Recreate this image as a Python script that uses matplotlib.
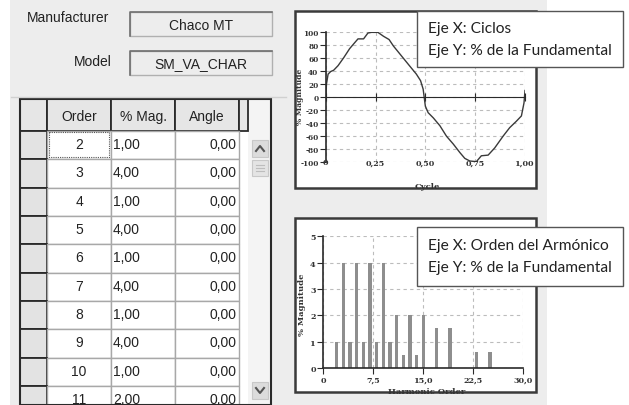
import matplotlib.pyplot as plt
from matplotlib.patches import Rectangle

# table data (harmonic settings)
orders = [2, 3, 4, 5, 6, 7, 8, 9, 10, 11]
mags = [1.0, 4.0, 1.0, 4.0, 1.0, 4.0, 1.0, 4.0, 1.0, 2.0]
angles = [0.0] * 10
headers = ["Order", "% Mag.", "Angle"]

# spectrum
h_order = [2, 3, 4, 5, 6, 7, 8, 9, 10, 11, 12, 13, 14, 15, 17, 19, 23, 25]
h_mag = [1, 4, 1, 4, 1, 4, 1, 4, 1, 2, 0.5, 2, 0.5, 2, 1.5, 1.5, 0.6, 0.6]

# waveform
cycle_t = [0, 0.004, 0.012, 0.025, 0.04, 0.062, 0.09, 0.12, 0.145, 0.162, 0.19,
           0.212, 0.23, 0.262, 0.29, 0.318, 0.34, 0.38, 0.42, 0.455, 0.476, 0.489,
           0.494, 0.5, 0.514, 0.54, 0.573, 0.606, 0.64, 0.673, 0.698, 0.723, 0.756,
           0.781, 0.815, 0.848, 0.89, 0.923, 0.957, 0.982, 0.995, 1.0]
wave_pct = [0, 20, 35, 39, 41, 48, 60, 74, 83, 89, 89,
            98, 99, 99, 93, 88, 78, 63, 48, 35, 25, 12,
            0, -14, -24, -32, -44, -60, -72, -85, -94, -98, -99,
            -90, -89, -78, -60, -47, -37, -29, -9, 10]

wave_xticks = [0, 0.25, 0.5, 0.75, 1.0]
wave_xlabels = ["0", "0,25", "0,50", "0,75", "1,00"]
wave_yticks = list(range(-100, 101, 20))
spec_xticks = [0, 7.5, 15, 22.5, 30]
spec_xlabels = ["0", "7,5", "15,0", "22,5", "30,0"]
spec_yticks = [0, 1, 2, 3, 4, 5]

W, H = 629, 406
UI = "#ededed"
DARK = "#2a2a2a"
ui_font = "Liberation Sans"
note_font = "Lato"
FS = 10
tick_font = dict(family="DejaVu Serif", weight="bold", size=5.8, color="#333333")
tick_small = dict(tick_font, size=5.3)


def fig_rect(x0, y0, x1, y1):
    return [x0 / W, 1 - y1 / H, (x1 - x0) / W, (y1 - y0) / H]


fig = plt.figure(figsize=(W / 100, H / 100), dpi=100)
fig.patch.set_facecolor("white")

bg = fig.add_axes([0, 0, 1, 1])
bg.set_xlim(0, W)
bg.set_ylim(H, 0)
bg.axis("off")

# gray dialog background
bg.add_patch(Rectangle((10, 0), 537, 406, facecolor=UI, edgecolor="none"))
bg.plot([11, 286], [98, 98], color="#d0d0d0", lw=1)

# manufacturer / model fields
bg.text(27, 18, "Manufacturer", family=ui_font, size=FS, va="center", color="#222")
bg.text(112, 62, "Model", family=ui_font, size=FS, va="center", ha="right", color="#222")
for y0, txt in [(13, "Chaco MT"), (52, "SM_VA_CHAR")]:
    bg.add_patch(Rectangle((130, y0), 142, 24, facecolor=UI, edgecolor="#b0b0b0", lw=1))
    bg.plot([130, 130, 272], [y0 + 24, y0, y0], color="#707070", lw=1.2)
    bg.text(201, y0 + 12.5, txt, family=ui_font, size=FS, ha="center", va="center", color="#222")

# table
tx = [20, 47, 111, 175, 239, 248]
top, head_h, row_h = 100, 32, 28.33
bg.add_patch(Rectangle((20, top), 251, 306, facecolor="#f4f4f4", edgecolor="none"))
bg.add_patch(Rectangle((47, top + head_h), 201, 306, facecolor="white", edgecolor="none"))
# header
for i in range(5):
    bg.add_patch(Rectangle((tx[i], top), tx[i + 1] - tx[i], head_h,
                           facecolor="#e6e6e6", edgecolor=DARK, lw=1.3))
for i, h in enumerate(headers):
    bg.text((tx[i + 1] + tx[i + 2]) / 2, top + head_h / 2 + 1, h, family=ui_font,
            size=FS, ha="center", va="center", color="#222")
# rows
for r, (o, m, a) in enumerate(zip(orders, mags, angles)):
    y0 = top + head_h + r * row_h
    bg.add_patch(Rectangle((20, y0), 27, row_h, facecolor="#e3e3e3", edgecolor=DARK, lw=1.3))
    for i in range(1, 4):
        bg.add_patch(Rectangle((tx[i], y0), tx[i + 1] - tx[i], row_h,
                               facecolor="white", edgecolor="#a8a8a8", lw=1))
    yc = y0 + row_h / 2 - 1
    bg.text(79, yc, str(o), family=ui_font, size=FS, ha="center", va="center", color="#222")
    bg.text(113, yc, f"{m:.2f}".replace(".", ","), family=ui_font, size=FS,
            ha="left", va="center", color="#222")
    bg.text(236, yc, f"{a:.2f}".replace(".", ","), family=ui_font, size=FS,
            ha="right", va="center", color="#222")
# focus on first cell
bg.add_patch(Rectangle((49, top + head_h + 1), 60, row_h - 3, facecolor="none",
                       edgecolor="#555", lw=0.8, linestyle=(0, (1, 1))))
# outer border
bg.add_patch(Rectangle((20, top), 251, 306, facecolor="none", edgecolor=DARK, lw=1.5))

# scrollbar
for y0 in [141, 383]:
    bg.add_patch(Rectangle((252, y0), 16, 17, facecolor="#dcdcdc", edgecolor="#c8c8c8", lw=0.8))
bg.plot([256, 260, 264], [152, 147, 152], color="#555", lw=1.5)
bg.plot([256, 260, 264], [389, 394, 389], color="#555", lw=1.5)
bg.add_patch(Rectangle((252, 161), 16, 16, facecolor="#e4e4e4", edgecolor="#c8c8c8", lw=0.8))
for yy in [166, 169, 172]:
    bg.plot([256, 264], [yy, yy], color="#bdbdbd", lw=0.8)

# chart frames
frames = []
for y0, y1 in [(12, 189), (219, 393)]:
    fr = Rectangle((295, y0), 241, y1 - y0, facecolor="white", edgecolor="#3a3a3a", lw=1.8)
    bg.add_patch(fr)
    frames.append(fr)

lab_font = dict(family="DejaVu Serif", weight="bold", size=6, color="#333333")
t = bg.text(427, 187, "Cycle", ha="center", va="center", **lab_font)
t.set_clip_path(frames[0])
t = bg.text(427, 392, "Harmonic Order", ha="center", va="center", **lab_font)
t.set_clip_path(frames[1])
bg.text(300.5, 97, "% Magnitude", rotation=90, ha="center", va="center",
        **dict(lab_font, size=5.5))
bg.text(302, 305, "% Magnitude", rotation=90, ha="center", va="center", **lab_font)

grid_kw = dict(color="#bcbcbc", lw=0.8, linestyle=(0, (3, 3)))

# top chart: waveform
ax1 = fig.add_axes(fig_rect(325.7, 32.7, 525, 163.3))
ax1.patch.set_alpha(0)
ax1.plot(cycle_t, wave_pct, color="#3a3a3a", lw=1.0)
ax1.set_xlim(0, 1)
ax1.set_ylim(-100, 100)
ax1.set_xticks(wave_xticks)
ax1.set_yticks(wave_yticks)
ax1.set_yticklabels([str(v) for v in wave_yticks], fontdict=tick_small)
ax1.grid(True, **grid_kw)
for s in ["top", "right"]:
    ax1.spines[s].set_visible(False)
ax1.spines["bottom"].set_position(("data", 0))
ax1.spines["bottom"].set_color(DARK)
ax1.spines["left"].set_color(DARK)
ax1.spines["left"].set_linewidth(1.2)
ax1.tick_params(axis="x", direction="inout", length=6, labelbottom=False, color=DARK)
ax1.tick_params(axis="y", direction="out", length=4, pad=1.2, color=DARK)
for xv, lb in zip(wave_xticks, wave_xlabels):
    ax1.text(xv, -100, lb, ha="center", va="center", clip_on=False, **tick_font)

# bottom chart: spectrum
ax2 = fig.add_axes(fig_rect(323.3, 237.3, 523.3, 369))
ax2.patch.set_alpha(0)
ax2.bar(h_order, h_mag, width=0.5, color="#8e8e8e", zorder=3)
ax2.set_xlim(0, 30)
ax2.set_ylim(0, 5)
ax2.set_xticks(spec_xticks)
ax2.set_xticklabels(spec_xlabels, fontdict=tick_font)
ax2.set_yticks(spec_yticks)
ax2.set_yticklabels([str(v) for v in spec_yticks], fontdict=tick_font)
ax2.grid(True, **grid_kw)
ax2.set_axisbelow(True)
for s in ["top", "right"]:
    ax2.spines[s].set_visible(False)
for s in ["bottom", "left"]:
    ax2.spines[s].set_color(DARK)
    ax2.spines[s].set_linewidth(1.2)
    ax2.spines[s].set_zorder(4)
ax2.tick_params(direction="out", length=4, pad=1.5, color=DARK)

# annotation boxes
ov = fig.add_axes([0, 0, 1, 1], zorder=10)
ov.set_xlim(0, W)
ov.set_ylim(H, 0)
ov.axis("off")
notes = [(12, 68, ["Eje X: Ciclos", "Eje Y: % de la Fundamental"]),
         (228, 287, ["Eje X: Orden del Armónico", "Eje Y: % de la Fundamental"])]
for y0, y1, lines in notes:
    ov.add_patch(Rectangle((417, y0), 206, y1 - y0, facecolor="white",
                           edgecolor="#555555", lw=1))
    mid = (y0 + y1) / 2
    for k, ln in enumerate(lines):
        ov.text(428, mid - 11 + 22 * k, ln, family=note_font, size=11.2,
                va="center", color="#222")

fig.savefig("out.png", dpi=100)
